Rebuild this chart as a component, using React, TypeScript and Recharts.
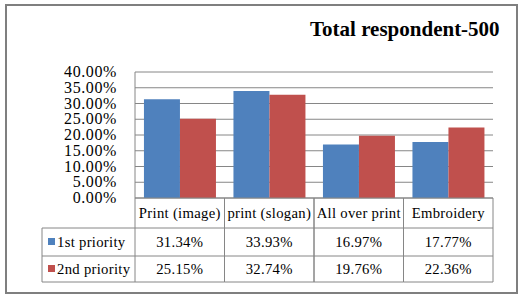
import React from 'react';
import { BarChart, Bar, XAxis, YAxis, CartesianGrid } from 'recharts';

const categories = ['Print (image)', 'print (slogan)', 'All over print', 'Embroidery'];
const firstPriority = [31.34, 33.93, 16.97, 17.77];
const secondPriority = [25.15, 32.74, 19.76, 22.36];
const seriesNames = ['1st priority', '2nd priority'];
const yTicks = [0, 5, 10, 15, 20, 25, 30, 35, 40];

const BLUE = '#4F81BD';
const RED = '#C0504D';
const LINE = '#868686';
const FONT = '"Liberation Serif", "Times New Roman", serif';

const data = categories.map((name, i) => ({
    name,
    first: firstPriority[i],
    second: secondPriority[i],
}));

const fmt = (v: number) => v.toFixed(2) + '%';

// plot spans x 135..493, so each table column is one band wide
const COL_W = (493 - 135) / categories.length;
const HEADER_H = 30;
const ROW1_H = 28;
const ROW2_H = 26;
const LEGEND_X = 42;

const YTick = ({ x, y, payload }: any) => (
    <text
        x={x}
        y={y + 5}
        textAnchor="end"
        fill="#000"
        style={{ fontFamily: FONT, fontSize: 16, letterSpacing: 0.6 }}
    >
        {fmt(payload.value)}
    </text>
);

// each x tick draws its own column of the data table
const TableTick = ({ x, y, payload, index }: any) => {
    const i = payload.index ?? index;
    const left = x - COL_W / 2;
    const right = x + COL_W / 2;
    const r1 = y + HEADER_H;
    const r2 = r1 + ROW1_H;
    const bottom = r2 + ROW2_H;
    const textStyle = { fontFamily: FONT, fontSize: 14.7, letterSpacing: 0.3 };
    return (
        <g>
            <line x1={left} x2={left} y1={y} y2={bottom} stroke={LINE} />
            <line x1={right} x2={right} y1={y} y2={bottom} stroke={LINE} />
            <line x1={left} x2={right} y1={r1} y2={r1} stroke={LINE} />
            <line x1={left} x2={right} y1={r2} y2={r2} stroke={LINE} />
            <line x1={left} x2={right} y1={bottom} y2={bottom} stroke={LINE} />
            <text x={x} y={y + HEADER_H / 2 + 5} textAnchor="middle" fill="#000" style={textStyle}>
                {payload.value}
            </text>
            <text x={x} y={r1 + ROW1_H / 2 + 5} textAnchor="middle" fill="#000" style={textStyle}>
                {fmt(firstPriority[i])}
            </text>
            <text x={x} y={r2 + ROW2_H / 2 + 5} textAnchor="middle" fill="#000" style={textStyle}>
                {fmt(secondPriority[i])}
            </text>
            {i === 0 && (
                <g>
                    <line x1={LEGEND_X} x2={left} y1={r1} y2={r1} stroke={LINE} />
                    <line x1={LEGEND_X} x2={left} y1={r2} y2={r2} stroke={LINE} />
                    <line x1={LEGEND_X} x2={left} y1={bottom} y2={bottom} stroke={LINE} />
                    <line x1={LEGEND_X} x2={LEGEND_X} y1={r1} y2={bottom} stroke={LINE} />
                    <rect x={LEGEND_X + 6} y={r1 + ROW1_H / 2 - 4} width={7} height={7} fill={BLUE} />
                    <text x={LEGEND_X + 15} y={r1 + ROW1_H / 2 + 5} fill="#000" style={textStyle}>
                        {seriesNames[0]}
                    </text>
                    <rect x={LEGEND_X + 6} y={r2 + ROW2_H / 2 - 4} width={7} height={7} fill={RED} />
                    <text x={LEGEND_X + 15} y={r2 + ROW2_H / 2 + 5} fill="#000" style={textStyle}>
                        {seriesNames[1]}
                    </text>
                </g>
            )}
        </g>
    );
};

export default function App() {
    return (
        <div style={{ position: 'absolute', left: 0, top: 0, width: 522, height: 298, background: '#fff' }}>
            <div
                style={{
                    position: 'absolute',
                    left: 5,
                    top: 4,
                    width: 513,
                    height: 290,
                    boxSizing: 'border-box',
                    border: '2px solid #7f7f7f',
                }}
            />
            <div
                style={{
                    position: 'absolute',
                    left: 310,
                    top: 15,
                    fontFamily: FONT,
                    fontWeight: 'bold',
                    fontSize: 21,
                    lineHeight: '28px',
                    color: '#000',
                    whiteSpace: 'nowrap',
                }}
            >
                Total respondent-500
            </div>
            <BarChart
                width={522}
                height={298}
                data={data}
                margin={{ top: 72, right: 29, left: 0, bottom: 0 }}
                barCategoryGap="10%"
                barGap={0}
                style={{ position: 'absolute', left: 0, top: 0 }}
            >
                <CartesianGrid vertical={false} stroke={LINE} strokeDasharray="" />
                <XAxis
                    dataKey="name"
                    height={100}
                    tickLine={false}
                    tickSize={0}
                    tickMargin={0}
                    axisLine={{ stroke: LINE }}
                    interval={0}
                    tick={<TableTick />}
                />
                <YAxis
                    width={135}
                    domain={[0, 40]}
                    ticks={yTicks}
                    tickLine={false}
                    tickSize={6}
                    tickMargin={12}
                    axisLine={{ stroke: LINE }}
                    tick={<YTick />}
                    interval={0}
                />
                <Bar dataKey="first" fill={BLUE} isAnimationActive={false} />
                <Bar dataKey="second" fill={RED} isAnimationActive={false} />
            </BarChart>
        </div>
    );
}
